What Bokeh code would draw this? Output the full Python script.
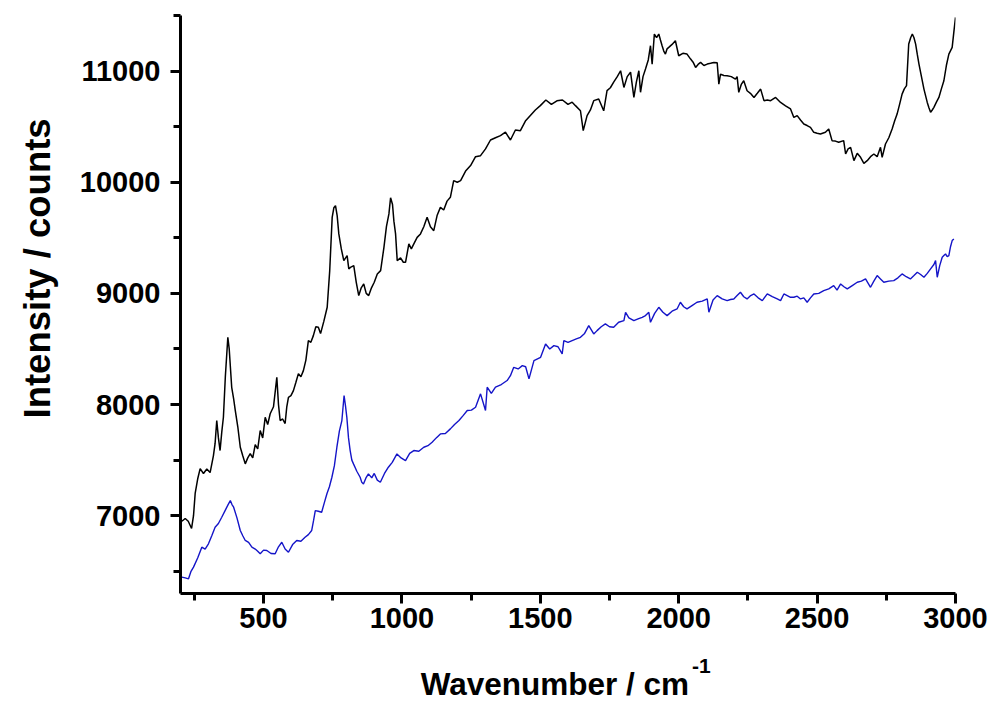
from bokeh.plotting import figure
from bokeh.models import FixedTicker, Range1d, Title, LinearAxis
from bokeh.embed import file_html
from bokeh.resources import INLINE

# ---- data ----
black_x = [205, 217, 228, 240, 247, 253, 262, 271, 283, 295, 307, 319, 325, 331, 337, 343, 349, 355, 362, 371,
           376, 385, 392, 398, 407, 416, 425, 434, 443, 452, 461, 470, 479, 488, 497, 506, 515, 524, 536, 548,
           554, 560, 569, 578, 584, 590, 599, 608, 617, 626, 635, 644, 653, 662, 671, 680, 689, 698, 706, 718,
           730, 739, 748, 754, 760, 766, 772, 781, 790, 802, 808, 814, 826, 835, 844, 853, 862, 871, 880, 890,
           900, 911, 923, 935, 944, 953, 959, 966, 971, 977, 983, 995, 1005, 1013, 1025, 1034, 1043, 1055, 1067, 1079,
           1091, 1103, 1115, 1127, 1139, 1151, 1163, 1175, 1187, 1200, 1212, 1230, 1248, 1266, 1284, 1302, 1320, 1338, 1356, 1374,
           1392, 1410, 1428, 1446, 1464, 1482, 1500, 1520, 1540, 1560, 1580, 1600, 1615, 1627, 1645, 1655, 1669, 1681, 1693, 1711,
           1729, 1741, 1753, 1765, 1778, 1790, 1802, 1814, 1826, 1838, 1847, 1856, 1862, 1871, 1880, 1890, 1898, 1904, 1912, 1920,
           1928, 1934, 1940, 1946, 1952, 1958, 1964, 1976, 1988, 2000, 2015, 2030, 2043, 2052, 2061, 2070, 2079, 2091, 2103, 2115,
           2127, 2139, 2145, 2151, 2163, 2175, 2190, 2205, 2211, 2217, 2226, 2235, 2247, 2259, 2272, 2284, 2296, 2308, 2320, 2332,
           2350, 2368, 2386, 2404, 2416, 2428, 2440, 2452, 2464, 2476, 2488, 2500, 2512, 2530, 2542, 2554, 2566, 2578, 2596, 2603,
           2612, 2621, 2633, 2645, 2657, 2669, 2681, 2693, 2705, 2717, 2729, 2735, 2747, 2759, 2771, 2780, 2789, 2798, 2807, 2815,
           2823, 2831, 2838, 2844, 2850, 2856, 2862, 2868, 2877, 2886, 2898, 2904, 2910, 2916, 2922, 2931, 2940, 2949, 2958, 2967,
           2976, 2988, 2994, 3000]
black_y = [6950, 6975, 6950, 6885, 7000, 7200, 7330, 7424, 7380, 7420, 7388, 7541, 7650, 7856, 7700, 7586, 7750, 7886, 8250, 8605,
           8500, 8155, 8050, 7946, 7800, 7616, 7540, 7466, 7520, 7559, 7520, 7640, 7600, 7766, 7700, 7885, 7820, 7917, 7980, 8245,
           8000, 7856, 7870, 7829, 7980, 8065, 8080, 8125, 8200, 8278, 8250, 8305, 8400, 8575, 8560, 8620, 8700, 8695, 8638, 8750,
           8875, 9200, 9684, 9770, 9789, 9700, 9535, 9400, 9295, 9340, 9220, 9234, 9250, 9100, 8980, 9050, 9085, 9000, 8980, 9050,
           9100, 9175, 9205, 9414, 9600, 9715, 9860, 9800, 9650, 9535, 9295, 9320, 9280, 9279, 9445, 9400, 9445, 9504, 9535, 9600,
           9684, 9600, 9564, 9700, 9774, 9750, 9830, 9864, 10014, 10000, 10014, 10100, 10150, 10230, 10239, 10300, 10380, 10400, 10419, 10450,
           10380, 10470, 10464, 10550, 10600, 10650, 10689, 10740, 10700, 10733, 10740, 10700, 10720, 10689, 10643, 10464, 10599, 10650, 10734, 10749,
           10643, 10824, 10850, 10900, 10950, 11003, 10853, 10950, 10990, 10764, 10900, 11003, 10809, 10950, 11018, 11100, 11228, 11063, 11333, 11300,
           11333, 11280, 11228, 11180, 11153, 11200, 11213, 11240, 11273, 11138, 11160, 11153, 11108, 11080, 11033, 11060, 11078, 11050, 11063, 11070,
           11078, 11075, 10883, 10973, 10960, 10958, 10950, 10928, 10950, 10809, 10880, 10913, 10823, 10800, 10763, 10800, 10838, 10734, 10740, 10734,
           10763, 10718, 10688, 10659, 10583, 10599, 10560, 10524, 10510, 10494, 10449, 10440, 10434, 10450, 10479, 10374, 10370, 10359, 10374, 10254,
           10300, 10314, 10194, 10260, 10224, 10170, 10194, 10230, 10254, 10230, 10314, 10224, 10344, 10400, 10479, 10550, 10613, 10700, 10793, 10840,
           10869, 11243, 11300, 11333, 11300, 11243, 11150, 11063, 10950, 10838, 10718, 10670, 10629, 10650, 10674, 10720, 10763, 10840, 10913, 11050,
           11153, 11213, 11350, 11483]

blue_x = [205, 217, 229, 238, 247, 262, 277, 289, 301, 313, 325, 337, 349, 362, 372, 380, 386, 392, 404, 416,
          425, 434, 446, 458, 470, 479, 488, 500, 512, 527, 542, 554, 566, 578, 590, 605, 620, 635, 650, 662,
          674, 681, 687, 698, 710, 720, 729, 738, 747, 756, 765, 774, 783, 791, 796, 801, 807, 813, 819, 825,
          837, 849, 855, 861, 870, 879, 891, 900, 911, 922, 937, 951, 965, 982, 997, 1013, 1028, 1043, 1061, 1079,
          1094, 1109, 1124, 1139, 1157, 1175, 1190, 1206, 1221, 1236, 1251, 1266, 1284, 1302, 1308, 1323, 1338, 1359, 1380, 1392,
          1404, 1420, 1435, 1447, 1459, 1477, 1501, 1519, 1534, 1549, 1564, 1579, 1585, 1600, 1615, 1630, 1645, 1660, 1675, 1693,
          1705, 1720, 1735, 1750, 1765, 1783, 1802, 1808, 1820, 1838, 1853, 1868, 1880, 1892, 1898, 1913, 1928, 1943, 1958, 1976,
          1994, 2006, 2018, 2030, 2048, 2066, 2085, 2103, 2109, 2124, 2139, 2157, 2175, 2187, 2199, 2211, 2223, 2235, 2247, 2260,
          2272, 2287, 2302, 2320, 2338, 2356, 2368, 2380, 2404, 2416, 2428, 2440, 2452, 2464, 2476, 2488, 2506, 2524, 2542, 2560,
          2572, 2585, 2597, 2609, 2627, 2645, 2660, 2675, 2693, 2705, 2717, 2729, 2741, 2759, 2777, 2792, 2807, 2822, 2837, 2850,
          2862, 2874, 2886, 2898, 2910, 2922, 2928, 2934, 2943, 2952, 2958, 2964, 2970, 2976, 2982, 2988, 2994]
blue_y = [6447, 6440, 6432, 6500, 6537, 6620, 6717, 6700, 6747, 6820, 6896, 6930, 6986, 7050, 7100, 7136, 7100, 7076, 6980, 6867,
          6820, 6777, 6760, 6717, 6700, 6680, 6657, 6690, 6687, 6660, 6657, 6720, 6761, 6700, 6671, 6740, 6777, 6770, 6806, 6830,
          6867, 6960, 7046, 7040, 7031, 7120, 7197, 7260, 7346, 7450, 7616, 7760, 7856, 8081, 7990, 7885, 7700, 7586, 7500, 7466,
          7400, 7346, 7300, 7286, 7340, 7376, 7340, 7380, 7320, 7301, 7380, 7436, 7480, 7556, 7520, 7496, 7560, 7586, 7580, 7616,
          7630, 7661, 7700, 7736, 7740, 7781, 7820, 7856, 7900, 7946, 7950, 7976, 8096, 7946, 8156, 8100, 8156, 8180, 8216, 8260,
          8335, 8320, 8350, 8340, 8231, 8395, 8425, 8545, 8500, 8530, 8520, 8455, 8575, 8560, 8575, 8590, 8605, 8640, 8710, 8635,
          8665, 8700, 8725, 8700, 8695, 8740, 8755, 8830, 8780, 8755, 8770, 8785, 8800, 8830, 8740, 8820, 8875, 8830, 8800, 8840,
          8860, 8920, 8880, 8860, 8890, 8920, 8930, 8950, 8830, 8940, 8980, 8950, 8935, 8945, 8950, 8980, 9010, 8970, 8950, 8980,
          8995, 8960, 8935, 8995, 8970, 8950, 8935, 8995, 8965, 8965, 8975, 8950, 8960, 8920, 8960, 8995, 9000, 9025, 9040, 9070,
          9030, 9085, 9060, 9040, 9070, 9100, 9110, 9130, 9055, 9110, 9160, 9130, 9100, 9110, 9115, 9140, 9175, 9150, 9130, 9160,
          9190, 9170, 9145, 9180, 9220, 9260, 9295, 9145, 9250, 9325, 9340, 9355, 9330, 9340, 9420, 9475, 9490]

x_ticks = [500, 1000, 1500, 2000, 2500, 3000]
x_minor = [250, 750, 1250, 1750, 2250, 2750]
y_ticks = [7000, 8000, 9000, 10000, 11000]
y_minor = [6500, 7500, 8500, 9500, 10500, 11500]
x_title = "Wavenumber / cm"
x_title_sup = "-1"
sup_at = 2082          # x-position (axis units) where the superscript of the x title sits
y_title = "Intensity / counts"

FONT = "Liberation Sans"

p = figure(width=992, height=706, output_backend="svg", toolbar_location=None,
           x_range=Range1d(200, 3000), y_range=Range1d(6300, 11500),
           min_border_left=180, min_border_right=37, min_border_top=15, min_border_bottom=113)
p.outline_line_color = None
p.xgrid.visible = False
p.ygrid.visible = False
p.background_fill_color = "white"
p.border_fill_color = "white"

p.line(black_x, black_y, line_color="black", line_width=1.5)
p.line(blue_x, blue_y, line_color="#1414c8", line_width=1.4)

for ax in (p.xaxis[0], p.yaxis[0]):
    ax.axis_line_width = 3
    ax.axis_line_color = "black"
    ax.major_tick_line_width = 3
    ax.minor_tick_line_width = 3
    ax.major_tick_in = 0
    ax.major_tick_out = 10
    ax.minor_tick_in = 0
    ax.minor_tick_out = 7
    ax.major_label_text_font = FONT
    ax.major_label_text_font_style = "bold"
    ax.major_label_text_font_size = "29px"
    ax.major_label_text_color = "black"

p.xaxis[0].ticker = FixedTicker(ticks=x_ticks, minor_ticks=x_minor)
p.yaxis[0].ticker = FixedTicker(ticks=y_ticks, minor_ticks=y_minor)
p.xaxis[0].major_label_standoff = 4
p.yaxis[0].major_label_standoff = 10

# second (tick-less) bottom axis carrying the x title and its superscript
ax2 = LinearAxis(ticker=FixedTicker(ticks=[sup_at], minor_ticks=[]),
                 major_label_overrides={sup_at: x_title_sup},
                 axis_line_color=None, major_tick_line_color=None, minor_tick_line_color=None,
                 major_tick_out=0, major_tick_in=0, minor_tick_out=0, minor_tick_in=0,
                 major_label_standoff=28,
                 major_label_text_font=FONT, major_label_text_font_style="bold",
                 major_label_text_font_size="21px", major_label_text_color="black",
                 axis_label=x_title + "   ", axis_label_standoff=-10,
                 axis_label_text_font=FONT, axis_label_text_font_style="bold",
                 axis_label_text_font_size="31.5px", axis_label_text_color="black")
p.add_layout(ax2, "below")

# y title as a side title, shifted up like the reference
p.add_layout(Title(text=y_title, align="left", vertical_align="top", offset=175, standoff=33,
                   text_font=FONT, text_font_style="bold", text_font_size="36.5px",
                   text_color="black"), "left")

open("out.html", "w").write(file_html(p, INLINE))
